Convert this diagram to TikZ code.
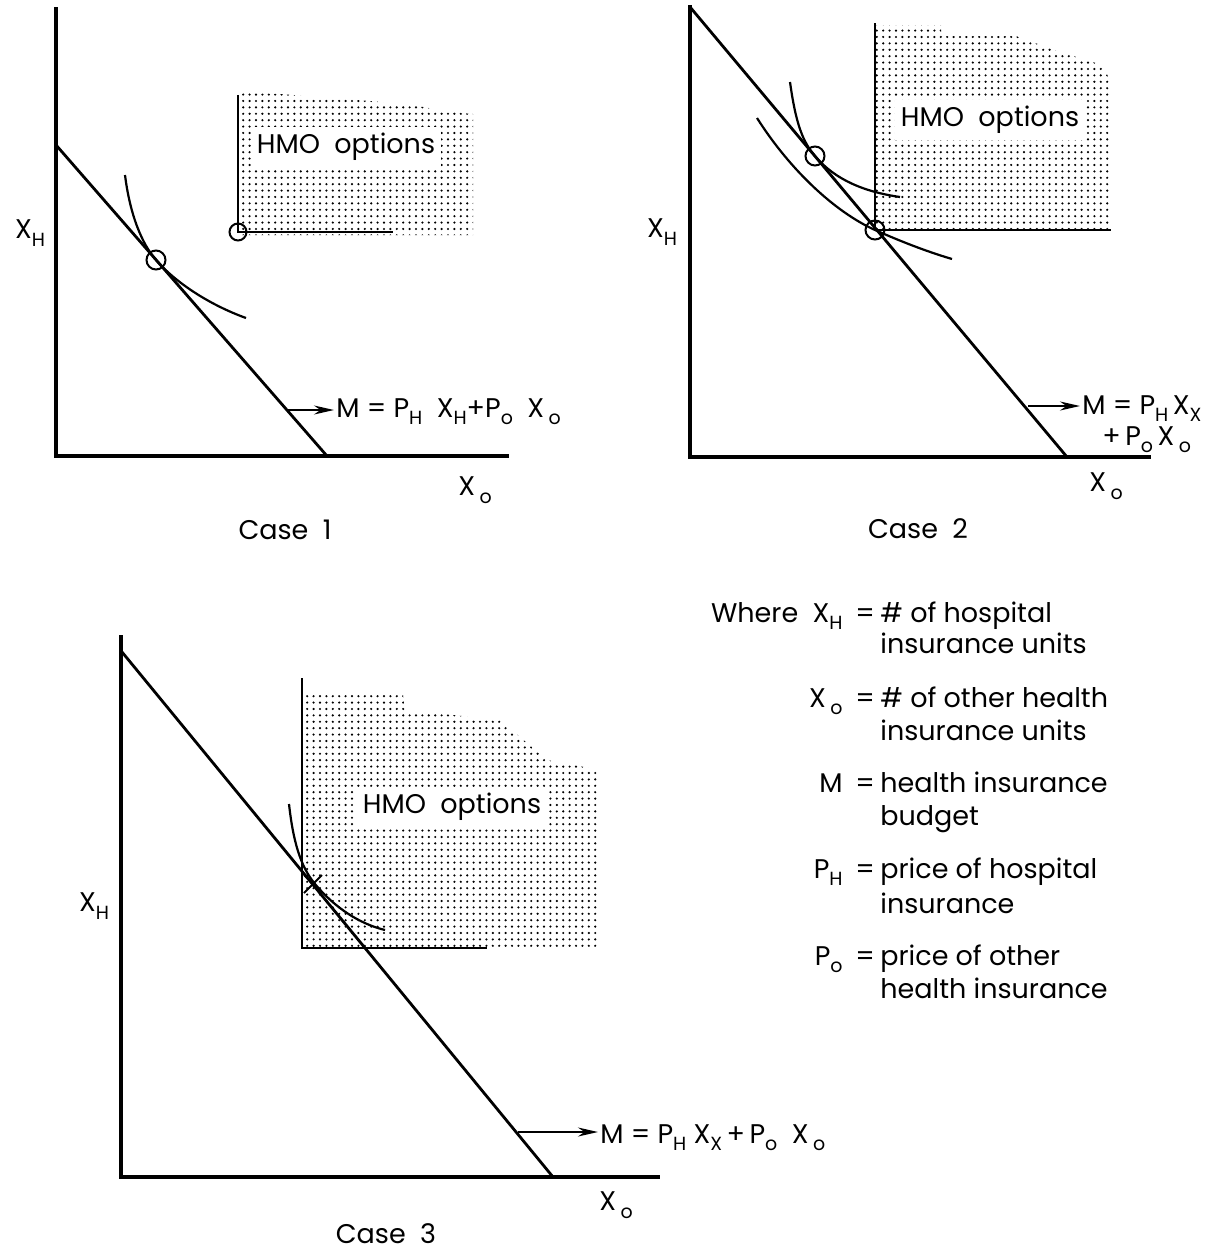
\documentclass[tikz,border=0pt]{standalone}
\usepackage{fontspec}
\setmainfont{Poppins}
\usepackage{tikz}
\usetikzlibrary{arrows.meta,patterns,shapes.misc}
\newcommand{\lo}[1]{\raisebox{-0.5ex}{\fontsize{9.5}{9.5}\selectfont #1}}
\pgfdeclarepatternformonly{hmodots}{\pgfqpoint{-1pt}{-1pt}}{\pgfqpoint{4pt}{4pt}}{\pgfqpoint{3.2pt}{3.2pt}}{%
  \pgfpathcircle{\pgfqpoint{0pt}{0pt}}{0.6pt}\pgfusepath{fill}}
\tikzset{
  axis/.style={line width=1.6pt},
  budget/.style={line width=1.4pt},
  icurve/.style={line width=1.1pt},
  hmoline/.style={line width=1.1pt},
  hmofill/.style={pattern=hmodots},
  lbl/.style={font=\fontsize{13.5}{15}\selectfont, inner sep=1pt},
  hmolbl/.style={lbl, fill=white, inner sep=3pt},
  pt/.style={draw, circle, line width=1pt, minimum size=9.5pt, inner sep=0pt},
  arr/.style={line width=0.9pt, -{Stealth[length=10pt,width=4.5pt]}}
}

\begin{document}
\begin{tikzpicture}[x=0.5pt,y=-0.5pt]
        \useasboundingbox (0,0) rectangle (1222,1253);
        % case 1
        \fill[hmofill] (238,93) -- (280,94) -- (407,104) -- (450,112) -- (473,114) -- (473,235) -- (238,235) -- cycle;
        \draw[axis] (56,7) -- (56,456) -- (509,456);
        \draw[hmoline] (238,95) -- (238,232) -- (393,232);
        \draw[budget] (56,145) -- (327,456);
        \draw[icurve] (125,175) .. controls (130,215) and (142,244) .. (156,260)
                      .. controls (176,283) and (210,305) .. (246,318);
        \node[pt] (p1) at (156,260) {};
        \node[pt, minimum size=8.5pt] (q1) at (238,232) {};
        \node[hmolbl] (hmo1) at (346,147) {HMO\ \ options};
        \node[lbl] (xh1) at (30,233) {X\lo{H}};
        \node[lbl] (xo1) at (475,490) {X\,\lo{o}};
        \node[lbl] (case1) at (285,530) {Case\ \ 1};
        \node[lbl, anchor=base west] (f1) at (334,417) {M = P\lo{H}\ \ X\lo{H}+P\lo{o}\ \ X\,\lo{o}};
        \coordinate (a1) at (288,410);
        \draw[arr] (a1) -- (a1 -| f1.west);

        % case 2
        \fill[hmofill] (875,25) -- (941,25) -- (941,36) -- (1016,36) -- (1054,50) -- (1102,65) -- (1110,80) -- (1110,232) -- (875,232) -- cycle;
        \draw[axis] (690,5) -- (690,457) -- (1151,457);
        \draw[hmoline] (875,23) -- (875,230) -- (1111,230);
        \draw[budget] (690,7) -- (1067,457);
        \draw[icurve] (790,82) .. controls (796,125) and (803,142) .. (815,156)
                      .. controls (835,180) and (865,192) .. (900,197);
        \draw[icurve] (757,118) .. controls (790,170) and (835,212) .. (875,230)
                      .. controls (900,241) and (925,251) .. (952,259);
        \node[pt] (p2) at (815,156) {};
        \node[pt] (q2) at (875,230) {};
        \node[hmolbl] (hmo2) at (990,120) {HMO\ \ options};
        \node[lbl] (xh2) at (662,232) {X\lo{H}};
        \node[lbl] (xo2) at (1106,486) {X\,\lo{o}};
        \node[lbl] (case2) at (918,529) {Case\ \ 2};
        \node[lbl, anchor=base west] (f2) at (1080,414) {M = P\lo{H}\,X\lo{X}};
        \node[lbl, anchor=base west] (g2) at (1100,445) {+\,P\lo{o}\,X\,\lo{o}};
        \coordinate (a2) at (1028,406);
        \draw[arr] (a2) -- (a2 -| f2.west);

        % case 3
        \fill[hmofill] (302,695) -- (403,695) -- (405,710) -- (500,720) -- (547,760) -- (600,770) -- (600,947) -- (302,947) -- cycle;
        \draw[axis] (121,635) -- (121,1177) -- (660,1177);
        \draw[hmoline] (302,678) -- (302,948) -- (487,948);
        \draw[budget] (122,652) -- (553,1177);
        \draw[icurve] (289,804) .. controls (293,840) and (300,866) .. (315,884)
                      .. controls (335,908) and (360,924) .. (385,930);
        \node[draw, cross out, line width=1pt, minimum size=8pt, inner sep=0pt] (x3) at (313,884) {};
        \node[hmolbl] (hmo3) at (452,807) {HMO\ \ options};
        \node[lbl] (xh3) at (94,906) {X\lo{H}};
        \node[lbl] (xo3) at (616,1205) {X\,\lo{o}};
        \node[lbl] (case3) at (386,1234) {Case\ \ 3};
        \node[lbl, anchor=base west] (f3) at (598,1143) {M = P\lo{H}\ X\lo{X}\,+\,P\lo{o}\ \ X\,\lo{o}};
        \coordinate (a3) at (518,1132);
        \draw[arr] (a3) -- (a3 -| f3.west);

        % legend
        \node[lbl, anchor=base east] (k1) at (845,622) {Where\ \ X\lo{H}};
        \node[lbl, anchor=base east] (k2) at (845,707) {X\,\lo{o}};
        \node[lbl, anchor=base east] (k3) at (845,792) {M};
        \node[lbl, anchor=base east] (k4) at (845,878) {P\lo{H}};
        \node[lbl, anchor=base east] (k5) at (845,965) {P\lo{o}};
        \foreach \y in {622,707,792,878,965}
          \node[lbl, anchor=base] at (865,\y) {=};
        \node[lbl, anchor=base west] (d1) at (878,622) {\# of hospital};
        \node[lbl, anchor=base west] (d1b) at (878,653) {insurance units};
        \node[lbl, anchor=base west] (d2) at (878,707) {\# of other health};
        \node[lbl, anchor=base west] (d2b) at (878,740) {insurance units};
        \node[lbl, anchor=base west] (d3) at (878,792) {health insurance};
        \node[lbl, anchor=base west] (d3b) at (878,825) {budget};
        \node[lbl, anchor=base west] (d4) at (878,878) {price of hospital};
        \node[lbl, anchor=base west] (d4b) at (878,913) {insurance};
        \node[lbl, anchor=base west] (d5) at (878,965) {price of other};
        \node[lbl, anchor=base west] (d5b) at (878,998) {health insurance};
      \end{tikzpicture}
\end{document}
